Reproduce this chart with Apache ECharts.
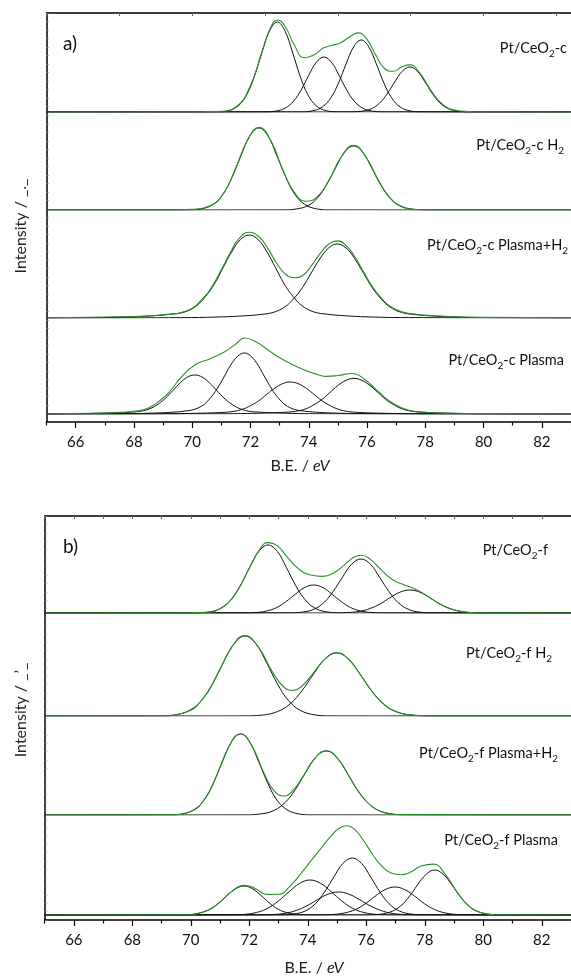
<!DOCTYPE html>
<html>
<head>
<meta charset="utf-8">
<script src="https://cdn.jsdelivr.net/npm/echarts@6/dist/echarts.min.js"></script>
<style>
  html, body { margin: 0; padding: 0; background: #fff; }
  #chart { width: 571px; height: 978px; }
</style>
</head>
<body>
<div id="chart"></div>
<script>
  // B.E. range and axis ticks
  const X_MIN = 65, X_MAX = 83;
  const tickLabels = [66, 68, 70, 72, 74, 76, 78, 80, 82];
  const minorTicks = [65, 67, 69, 71, 73, 75, 77, 79, 81, 83];

  // sample names (subscripts as rich text)
  const sampleLabels = [
    'Pt/CeO{s|2}-c', 'Pt/CeO{s|2}-c H{s|2}', 'Pt/CeO{s|2}-c Plasma+H{s|2}', 'Pt/CeO{s|2}-c Plasma',
    'Pt/CeO{s|2}-f', 'Pt/CeO{s|2}-f H{s|2}', 'Pt/CeO{s|2}-f Plasma+H{s|2}', 'Pt/CeO{s|2}-f Plasma'
  ];

  // ---- panel a: fitted components [B.E., intensity] ----
  const a1c1 = [[70.83,0.14],[71.24,1.35],[71.59,6.4],[71.88,17.8],[72.14,36.2],[72.40,60.0],[72.66,81.4],[72.92,90],[73.18,81.4],[73.44,60.0],[73.70,36.2],[73.96,17.8],[74.25,6.4],[74.60,1.35],[75.01,0.14]];
  const a1c2 = [[72.43,0.08],[72.84,0.8],[73.19,3.9],[73.48,10.9],[73.74,22.1],[74.00,36.7],[74.26,49.7],[74.52,55],[74.78,49.7],[75.04,36.7],[75.30,22.1],[75.56,10.9],[75.85,3.9],[76.20,0.8],[76.61,0.08]];
  const a1c3 = [[73.71,0.1],[74.12,1.1],[74.47,5.1],[74.76,14.3],[75.02,28.9],[75.28,48.0],[75.54,65.1],[75.80,72],[76.06,65.1],[76.32,48.0],[76.58,28.9],[76.84,14.3],[77.13,5.1],[77.48,1.1],[77.89,0.1]];
  const a1c4 = [[75.38,0.07],[75.79,0.7],[76.14,3.2],[76.43,8.9],[76.69,18.1],[76.95,30.0],[77.21,40.7],[77.47,45],[77.73,40.7],[77.99,30.0],[78.25,18.1],[78.51,8.9],[78.80,3.2],[79.15,0.7],[79.56,0.07]];
  const a1Env = [[65,0],[70,0.2],[70.5,0.4],[71,0.7],[71.5,5],[72,26.5],[72.4,61],[72.7,85],[72.92,92],[73.2,85],[73.5,67.2],[73.85,54.3],[74.2,57.5],[74.5,63.9],[74.8,66.7],[75.1,69.2],[75.4,75.1],[75.7,79.1],[76,72.6],[76.3,57],[76.6,43.5],[76.9,40.7],[77.2,45.2],[77.47,47.1],[77.8,39.4],[78.2,21.3],[78.6,7.6],[79,2],[79.5,0.5],[80,0.2],[83,0]];

  const a2c1 = [[69.84,0.1],[70.32,1.2],[70.73,5.8],[71.07,16.2],[71.37,33.0],[71.68,54.7],[71.98,74.1],[72.29,82],[72.60,74.1],[72.90,54.7],[73.21,33.0],[73.51,16.2],[73.85,5.8],[74.26,1.2],[74.74,0.1]];
  const a2c2 = [[73.09,0.1],[73.57,1.0],[73.98,4.5],[74.32,12.7],[74.62,25.7],[74.93,42.7],[75.23,57.9],[75.54,64],[75.85,57.9],[76.15,42.7],[76.46,25.7],[76.76,12.7],[77.10,4.5],[77.51,1.0],[77.99,0.1]];
  const a2Env = [[65,0],[69.5,0.1],[70,0.6],[70.6,3.9],[71.1,17.8],[71.5,42.3],[71.9,69.8],[72.29,82.6],[72.7,69.3],[73.1,40.9],[73.5,17.9],[73.9,8.8],[74.3,13.4],[74.7,30.3],[75.1,52.2],[75.54,64.6],[76,51.2],[76.4,29.1],[76.8,11.8],[77.2,3.5],[77.7,0.5],[78.3,0.1],[83,0]];

  const a3c1 = [[66.96,0.5],[67.96,1.2],[68.66,2.2],[69.26,3.7],[69.76,6.2],[70.16,12.5],[70.46,21.6],[70.76,34.0],[71.06,50.3],[71.36,66.4],[71.66,78.5],[71.96,83],[72.26,78.5],[72.56,66.4],[72.86,50.3],[73.16,34.0],[73.46,21.6],[73.76,12.5],[74.16,6.2],[74.66,3.7],[75.26,2.2],[75.96,1.2],[76.96,0.5]];
  const a3c2 = [[69.98,0.44],[70.98,1.1],[71.68,2.0],[72.28,3.3],[72.78,5.6],[73.18,11.1],[73.48,19.2],[73.78,30.3],[74.08,44.8],[74.38,59.2],[74.68,70.0],[74.98,74],[75.28,70.0],[75.58,59.2],[75.88,44.8],[76.18,30.3],[76.48,19.2],[76.78,11.1],[77.18,5.6],[77.68,3.3],[78.28,2.0],[78.98,1.1],[79.98,0.44]];
  const a3Env = [[65,0.3],[68,1.5],[69,3.2],[69.8,7],[70.4,20.6],[70.7,32.4],[71,48.3],[71.3,65],[71.6,79.1],[71.96,85.7],[72.3,81],[72.6,69.4],[72.9,54.8],[73.2,43.9],[73.5,40.3],[73.8,42.7],[74.1,52.7],[74.4,64.9],[74.7,74.2],[74.98,77.1],[75.3,71.8],[75.6,60.2],[75.9,45.1],[76.2,30.8],[76.5,19.7],[76.8,11.5],[77.2,6.1],[77.7,3.7],[78.3,2.3],[79,1.3],[80,0.6],[83,0.3]];

  const a4c1 = [[65.92,0.23],[66.76,0.6],[67.34,1.05],[67.84,1.8],[68.26,2.9],[68.59,5.9],[68.84,10.1],[69.09,16.0],[69.34,23.6],[69.59,31.2],[69.84,36.9],[70.09,39],[70.34,36.9],[70.59,31.2],[70.84,23.6],[71.09,16.0],[71.34,10.1],[71.59,5.9],[71.92,2.9],[72.34,1.8],[72.84,1.05],[73.42,0.6],[74.26,0.23]];
  const a4c2 = [[67.89,0.37],[68.67,0.9],[69.22,1.6],[69.68,2.7],[70.07,4.6],[70.39,9.2],[70.62,15.9],[70.85,25.0],[71.09,37.0],[71.32,48.8],[71.56,57.7],[71.79,61],[72.02,57.7],[72.26,48.8],[72.49,37.0],[72.73,25.0],[72.96,15.9],[73.19,9.2],[73.51,4.6],[73.90,2.7],[74.36,1.6],[74.91,0.9],[75.69,0.37]];
  const a4c3 = [[68.81,0.19],[69.73,0.48],[70.37,0.86],[70.91,1.4],[71.37,2.4],[71.73,4.8],[72.00,8.3],[72.28,13.1],[72.55,19.4],[72.82,25.6],[73.10,30.3],[73.37,32],[73.64,30.3],[73.92,25.6],[74.19,19.4],[74.46,13.1],[74.74,8.3],[75.01,4.8],[75.37,2.4],[75.83,1.4],[76.37,0.86],[77.01,0.48],[77.93,0.19]];
  const a4c4 = [[70.99,0.21],[71.91,0.53],[72.55,0.96],[73.09,1.6],[73.55,2.7],[73.91,5.3],[74.18,9.3],[74.46,14.6],[74.73,21.6],[75.00,28.5],[75.28,33.7],[75.55,35.6],[75.82,33.7],[76.10,28.5],[76.37,21.6],[76.64,14.6],[76.92,9.3],[77.19,5.3],[77.55,2.7],[78.01,1.6],[78.55,0.96],[79.19,0.53],[80.11,0.21]];
  const a4Env = [[65,0.3],[66.5,0.8],[67.5,1.6],[68,2.6],[68.5,6],[69,16],[69.3,25],[69.6,36],[70.09,49],[70.6,55],[71.1,62],[71.5,70],[71.8,76],[72.2,72],[72.6,64],[72.9,58],[73.4,50],[73.93,43],[74.3,39.5],[74.6,37.6],[75,38.5],[75.5,40.5],[75.9,35],[76.4,22],[76.9,10.5],[77.4,4],[78,1.8],[79,0.7],[80,0.4],[83,0.2]];

  // ---- panel b ----
  const b1c1 = [[70.12,0.1],[70.61,1.0],[71.03,4.8],[71.38,13.5],[71.69,27.3],[72.01,45.4],[72.32,61.5],[72.64,68],[72.96,61.5],[73.27,45.4],[73.59,27.3],[73.90,13.5],[74.25,4.8],[74.67,1.0],[75.16,0.1]];
  const b1c2 = [[71.68,0.04],[72.17,0.4],[72.59,2.0],[72.94,5.5],[73.25,11.3],[73.57,18.7],[73.88,25.3],[74.20,28],[74.52,25.3],[74.83,18.7],[75.15,11.3],[75.46,5.5],[75.81,2.0],[76.23,0.4],[76.72,0.04]];
  const b1c3 = [[73.30,0.08],[73.79,0.8],[74.21,3.8],[74.56,10.7],[74.87,21.7],[75.19,36.0],[75.50,48.8],[75.82,54],[76.14,48.8],[76.45,36.0],[76.77,21.7],[77.08,10.7],[77.43,3.8],[77.85,0.8],[78.34,0.08]];
  const b1c4 = [[74.79,0.03],[75.31,0.35],[75.76,1.6],[76.14,4.6],[76.48,9.2],[76.81,15.3],[77.15,20.8],[77.49,23],[77.83,20.8],[78.17,15.3],[78.50,9.2],[78.84,4.6],[79.22,1.6],[79.67,0.35],[80.19,0.03]];
  const b1Env = [[65,0],[70,0.2],[70.5,0.6],[71,4.4],[71.5,18.1],[72,45],[72.35,63.3],[72.64,70.4],[72.95,67.4],[73.3,55.9],[73.7,43.8],[74.1,38],[74.5,36.6],[74.9,40.3],[75.3,49.4],[75.6,56.2],[75.82,57.8],[76.1,54.6],[76.5,43.4],[76.9,33.3],[77.3,28.1],[77.7,23.6],[78.1,16.8],[78.5,9.3],[78.9,3.9],[79.3,1.2],[79.8,0.2],[83,0]];

  const b2c1 = [[68.90,0.1],[69.47,1.2],[69.96,5.7],[70.37,15.8],[70.74,32.2],[71.11,53.4],[71.48,72.3],[71.85,80],[72.22,72.3],[72.59,53.4],[72.96,32.2],[73.33,15.8],[73.74,5.7],[74.23,1.2],[74.80,0.1]];
  const b2c2 = [[71.82,0.1],[72.44,0.9],[72.97,4.5],[73.41,12.5],[73.80,25.3],[74.20,42.0],[74.59,57.0],[74.99,63],[75.39,57.0],[75.78,42.0],[76.18,25.3],[76.57,12.5],[77.01,4.5],[77.54,0.9],[78.16,0.1]];
  const b2Env = [[65,0],[69,0.2],[69.8,3.5],[70.4,16.8],[70.9,40.9],[71.4,68.8],[71.85,80.4],[72.3,69.4],[72.8,43.7],[73.2,28.5],[73.5,25.6],[73.8,30],[74.2,43.4],[74.6,57.4],[74.99,63.3],[75.4,56.5],[75.8,41.3],[76.2,24.5],[76.6,11.8],[77,4.6],[77.5,1.1],[78.1,0.1],[83,0]];

  const b3c1 = [[69.25,0.1],[69.73,1.2],[70.14,5.8],[70.48,16.0],[70.78,32.6],[71.09,54.0],[71.39,73.2],[71.70,81],[72.01,73.2],[72.31,54.0],[72.62,32.6],[72.92,16.0],[73.26,5.8],[73.67,1.2],[74.15,0.1]];
  const b3c2 = [[71.82,0.1],[72.37,1.0],[72.84,4.5],[73.23,12.7],[73.58,25.7],[73.93,42.7],[74.28,57.9],[74.63,64],[74.98,57.9],[75.33,42.7],[75.68,25.7],[76.03,12.7],[76.42,4.5],[76.89,1.0],[77.44,0.1]];
  const b3Env = [[65,0],[69.3,0.2],[70,3.6],[70.5,17.1],[70.9,40.5],[71.3,68.1],[71.7,81.3],[72.1,68.4],[72.5,42],[72.85,24.1],[73.2,19],[73.5,24.8],[73.85,39.3],[74.2,55.1],[74.63,64.3],[75.05,55.4],[75.4,39.3],[75.8,20.8],[76.2,8.4],[76.6,2.6],[77.1,0.4],[83,0]];

  const b4c1 = [[69.48,0.04],[69.93,0.4],[70.32,2.1],[70.65,5.7],[70.94,11.7],[71.23,19.3],[71.53,26.2],[71.82,29],[72.11,26.2],[72.41,19.3],[72.70,11.7],[72.99,5.7],[73.32,2.1],[73.71,0.4],[74.16,0.04]];
  const b4c2 = [[71.20,0.05],[71.76,0.5],[72.24,2.5],[72.64,6.9],[73.00,14.1],[73.36,23.3],[73.72,31.6],[74.08,35],[74.44,31.6],[74.80,23.3],[75.16,14.1],[75.52,6.9],[75.92,2.5],[76.40,0.5],[76.96,0.05]];
  const b4c3 = [[72.17,0.03],[72.73,0.35],[73.21,1.6],[73.61,4.6],[73.97,9.2],[74.33,15.3],[74.69,20.8],[75.05,23],[75.41,20.8],[75.77,15.3],[76.13,9.2],[76.49,4.6],[76.89,1.6],[77.37,0.35],[77.93,0.03]];
  const b4c4 = [[73.00,0.09],[73.49,0.9],[73.91,4.0],[74.26,11.3],[74.57,22.9],[74.89,38.0],[75.20,51.5],[75.52,57],[75.84,51.5],[76.15,38.0],[76.47,22.9],[76.78,11.3],[77.13,4.0],[77.55,0.9],[78.04,0.09]];
  const b4c5 = [[74.28,0.04],[74.80,0.4],[75.25,2.0],[75.63,5.5],[75.97,11.3],[76.30,18.7],[76.64,25.3],[76.98,28],[77.32,25.3],[77.66,18.7],[77.99,11.3],[78.33,5.5],[78.71,2.0],[79.16,0.4],[79.68,0.04]];
  const b4c6 = [[76.00,0.07],[76.45,0.7],[76.84,3.2],[77.17,8.9],[77.46,18.1],[77.75,30.0],[78.05,40.7],[78.34,45],[78.63,40.7],[78.93,30.0],[79.22,18.1],[79.51,8.9],[79.84,3.2],[80.23,0.7],[80.68,0.07]];
  const b4Env = [[65,0],[69.8,0.2],[70.4,2.7],[70.9,10.6],[71.4,23.6],[71.82,29.6],[72.2,26.6],[72.6,20.6],[73,20.7],[73.4,29.2],[73.8,42.8],[74.1,53.8],[74.45,66.7],[74.8,79.2],[75.1,87.3],[75.35,89.2],[75.6,85.6],[75.9,74.8],[76.2,61.3],[76.5,49.8],[76.85,42],[77.2,40.3],[77.5,42.7],[77.9,49.2],[78.3,50.9],[78.7,40.6],[79.1,23.2],[79.5,9.2],[79.9,2.5],[80.4,0.3],[83,0]];

  const spectra = [
    { comps: [a1c1, a1c2, a1c3, a1c4], env: a1Env },
    { comps: [a2c1, a2c2], env: a2Env },
    { comps: [a3c1, a3c2], env: a3Env },
    { comps: [a4c1, a4c2, a4c3, a4c4], env: a4Env },
    { comps: [b1c1, b1c2, b1c3, b1c4], env: b1Env },
    { comps: [b2c1, b2c2], env: b2Env },
    { comps: [b3c1, b3c2], env: b3Env },
    { comps: [b4c1, b4c2, b4c3, b4c4, b4c5, b4c6], env: b4Env }
  ];

  // ---- layout ----
  const FONT = 'Lato, "Open Sans", sans-serif';
  const GREEN = '#2a922a';
  const panels = [
    { left: 46.5, width: 531, top: 13, bottom: 422, topTick: 2.5, tag: 'a)', tagY: 44,
      yName: 'Intensity / _._', yNameY: 226, xNameX: 300, xNameY: 466,
      baselines: [112, 210, 318, 414], labelPos: [[567, 48], [564, 145], [568, 245], [564, 360]] },
    { left: 44.6, width: 529.2, top: 516, bottom: 920, topTick: 1, tag: 'b)', tagY: 547,
      yName: 'Intensity / _\u2019_', yNameY: 710, xNameX: 314, xNameY: 968,
      baselines: [613, 716, 815, 915], labelPos: [[548, 550], [552, 653], [558, 753], [558, 840]] }
  ];

  const withEnds = pts => [[X_MIN, 0]].concat(pts, [[X_MAX, 0]]);

  const grid = [], xAxis = [], yAxis = [], series = [], graphic = [];

  // frames: left border, top border, bottom scale
  panels.forEach((p, i) => {
    grid.push({ left: p.left, width: p.width, top: p.top, height: p.bottom - p.top });
    xAxis.push({
      gridIndex: i, type: 'value', min: X_MIN, max: X_MAX, interval: 1, position: 'bottom',
      axisLine: { lineStyle: { color: '#000', width: 1.5 } },
      axisTick: { customValues: tickLabels, length: 6, lineStyle: { color: '#000', width: 1.2 } },
      axisLabel: { customValues: tickLabels, fontSize: 15, fontFamily: FONT, color: '#111', margin: 13 },
      splitLine: { show: false }
    });
    xAxis.push({
      gridIndex: i, type: 'value', min: X_MIN, max: X_MAX, interval: 1, position: 'bottom',
      axisLine: { show: false },
      axisTick: { customValues: minorTicks, length: 3.5, lineStyle: { color: '#000', width: 1.2 } },
      axisLabel: { show: false }, splitLine: { show: false }
    });
    xAxis.push({
      gridIndex: i, type: 'value', min: X_MIN, max: X_MAX, interval: p.topTick, position: 'top',
      axisLine: { lineStyle: { color: '#000', width: 1.5 } },
      axisTick: { inside: true, length: 3, lineStyle: { color: '#666', width: 1 } },
      axisLabel: { show: false }, splitLine: { show: false }
    });
    yAxis.push({
      gridIndex: i, type: 'value', min: 0, max: 48, interval: 1,
      axisLine: { show: true, lineStyle: { color: '#000', width: 1.5 } },
      axisTick: { show: true, inside: true, length: 2, lineStyle: { color: '#777', width: 1 } },
      axisLabel: { show: false }, splitLine: { show: false }
    });

    graphic.push({ type: 'text', x: 63, y: p.tagY,
      style: { text: p.tag, fontSize: 19, fontFamily: FONT, fill: '#111', align: 'left', verticalAlign: 'middle' } });
    graphic.push({ type: 'text', x: 21, y: p.yNameY, rotation: Math.PI / 2,
      style: { text: p.yName, fontSize: 16, fontFamily: FONT, fill: '#222', align: 'center', verticalAlign: 'middle' } });
    graphic.push({ type: 'text', x: p.xNameX, y: p.xNameY,
      style: { text: 'B.E. / {i|eV}', fontSize: 16, fontFamily: FONT, fill: '#222', align: 'center', verticalAlign: 'middle',
        rich: { i: { fontSize: 16, fontFamily: FONT, fontStyle: 'italic', fill: '#222' } } } });
  });

  // one hidden grid per stacked spectrum, baseline at value 0
  spectra.forEach((sp, k) => {
    const p = panels[Math.floor(k / 4)];
    const j = k % 4;
    const g = 2 + k;
    grid.push({ left: p.left, width: p.width, top: p.baselines[j] - 100, height: 100 });
    xAxis.push({ gridIndex: g, type: 'value', min: X_MIN, max: X_MAX, show: false });
    yAxis.push({ gridIndex: g, type: 'value', min: 0, max: 100, show: false });

    sp.comps.forEach(c => series.push({
      type: 'line', xAxisIndex: 6 + k, yAxisIndex: g, data: withEnds(c),
      smooth: 0.4, symbol: 'none', silent: true, z: 2,
      lineStyle: { color: '#111', width: 1 }
    }));
    series.push({
      type: 'line', xAxisIndex: 6 + k, yAxisIndex: g, data: sp.env,
      smooth: 0.5, symbol: 'none', silent: true, z: 3,
      lineStyle: { color: GREEN, width: 1.1 }
    });

    const pos = p.labelPos[j];
    graphic.push({ type: 'text', x: pos[0], y: pos[1],
      style: { text: sampleLabels[k], fontSize: 14.5, lineHeight: 21, fontFamily: FONT, fill: '#111',
        align: 'right', verticalAlign: 'middle',
        rich: { s: { fontSize: 10, lineHeight: 10, verticalAlign: 'bottom', fontFamily: FONT, fill: '#111' } } } });
  });

  const chart = echarts.init(document.getElementById('chart'), null, { renderer: 'canvas' });
  chart.setOption({
    animation: false,
    backgroundColor: '#fff',
    grid: grid,
    xAxis: xAxis,
    yAxis: yAxis,
    series: series,
    graphic: graphic
  });
</script>
</body>
</html>
